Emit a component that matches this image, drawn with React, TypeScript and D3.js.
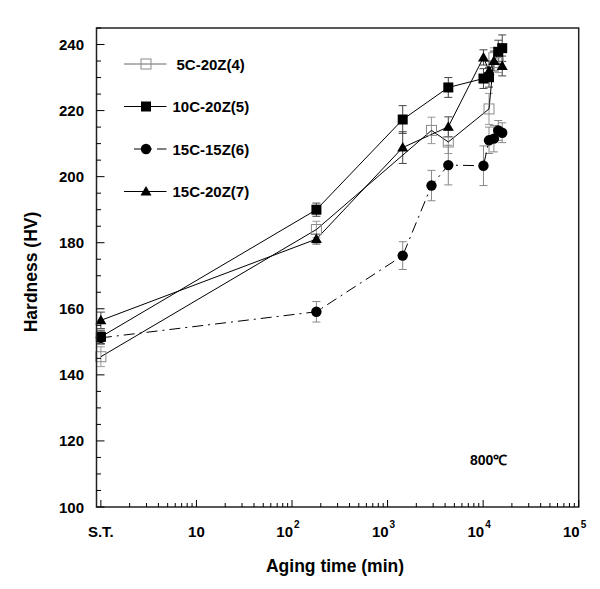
import React from "react";
import * as d3 from "d3";

const W = 600;
const H = 589;

// ---------- data ----------
const seriesNames = ["5C-20Z(4)", "10C-20Z(5)", "15C-15Z(6)", "15C-20Z(7)"];

// aging time in minutes; S.T. (solution treated) plotted at 1
const times5C20Z = [1, 180, 2880, 4320, 11520, 12960, 14400];
const hv5C20Z = [145.5, 184, 214, 210.5, 220.5, 236, 234.5];
const err5C20Z = [3, 2.5, 4, 3.5, 4.7, 3, 3];

const times10C20Z = [1, 180, 1440, 4320, 10080, 11520, 14400, 15840];
const hv10C20Z = [151.5, 190, 217.3, 227, 229.7, 230.1, 237.8, 238.9];
const err10C20Z = [2, 2, 4.2, 3, 3, 3, 3.5, 4];

const times15C15Z = [1, 180, 1440, 2880, 4320, 10080, 11520, 12960, 14400, 15840];
const hv15C15Z = [151.2, 159.1, 176.1, 197.3, 203.5, 203.3, 211, 211.5, 214, 213.3];
const err15C15Z = [2, 3.1, 4.2, 4.6, 6, 6, 4, 4, 3, 3];

const times15C20Z = [1, 180, 1440, 4320, 10080, 11520, 12960, 15840];
const hv15C20Z = [156.5, 181.1, 208.8, 215.1, 236.1, 232, 235, 233.5];
const err15C20Z = [2.5, 1.5, 4.8, 3, 2.3, 3, 3, 3];

const yTickValues = [100, 120, 140, 160, 180, 200, 220, 240];
const xTickValues = [1, 10, 100, 1000, 10000, 100000];
const xTickBase = ["S.T.", "10", "10", "10", "10", "10"];
const xTickExp = ["", "", "2", "3", "4", "5"];

const xTitle = "Aging time (min)";
const yTitle = "Hardness (HV)";
const tempLabel = "800\u2103";

// ---------- layout ----------
const plotLeft = 96.5;
const plotRight = 578.7;
const plotTop = 28;
const plotBottom = 507;
const FONT = "'Liberation Sans', Arial, Helvetica, sans-serif";

const x = d3.scaleLog().domain([0.9, 100000]).range([plotLeft, plotRight]);
const y = d3.scaleLinear().domain([100, 245]).range([plotBottom, plotTop]);

type Pt = { t: number; v: number; e: number };
const zip = (t: number[], v: number[], e: number[]): Pt[] =>
  t.map((tt, i) => ({ t: tt, v: v[i], e: e[i] }));

const series = [
  { name: seriesNames[0], pts: zip(times5C20Z, hv5C20Z, err5C20Z), marker: "openSquare", dash: "", errColor: "#9a9a9a" },
  { name: seriesNames[1], pts: zip(times10C20Z, hv10C20Z, err10C20Z), marker: "square", dash: "", errColor: "#444" },
  { name: seriesNames[2], pts: zip(times15C15Z, hv15C15Z, err15C15Z), marker: "circle", dash: "11,5,2,5", errColor: "#888" },
  { name: seriesNames[3], pts: zip(times15C20Z, hv15C20Z, err15C20Z), marker: "triangle", dash: "", errColor: "#444" },
];

const lineGen = d3
  .line<Pt>()
  .x((d) => x(d.t))
  .y((d) => y(d.v));

function Marker({ kind, cx, cy }: { kind: string; cx: number; cy: number }) {
  if (kind === "square")
    return <rect x={cx - 5} y={cy - 5} width={10} height={10} fill="#000" />;
  if (kind === "openSquare")
    return <rect x={cx - 5} y={cy - 5} width={10} height={10} fill="none" stroke="#8a8a8a" strokeWidth={1} />;
  if (kind === "circle") return <circle cx={cx} cy={cy} r={5.2} fill="#000" />;
  const p = `M${cx},${cy - 5.5}L${cx + 5.5},${cy + 4}L${cx - 5.5},${cy + 4}Z`;
  return <path d={p} fill="#000" />;
}

export default function App() {
  const allTicks = x.ticks().filter((t) => t >= 1 && t <= 100000);
  const isMajor = (t: number) => Math.abs(Math.log10(t) - Math.round(Math.log10(t))) < 1e-9;
  const yMinor = d3.range(100, 246, 5);

  const legendY = (i: number) => 64 + i * 42.5;

  return (
    <svg
      width={W}
      height={H}
      style={{ position: "absolute", left: 0, top: 0, display: "block", background: "#fff" }}
      fontFamily={FONT}
    >
      <rect x={0} y={0} width={W} height={H} fill="#fff" />

      {/* error bars */}
      {series.map((s, si) =>
        s.pts.map((d, i) => {
          const cx = x(d.t);
          const y1 = y(d.v - d.e);
          const y2 = y(d.v + d.e);
          return (
            <g key={`e${si}-${i}`} stroke={s.errColor} strokeWidth={1}>
              <line x1={cx} x2={cx} y1={y1} y2={y2} />
              <line x1={cx - 4} x2={cx + 4} y1={y1} y2={y1} />
              <line x1={cx - 4} x2={cx + 4} y1={y2} y2={y2} />
            </g>
          );
        })
      )}

      {/* lines */}
      {series.map((s, si) => (
        <path
          key={`l${si}`}
          d={lineGen(s.pts) || ""}
          fill="none"
          stroke="#000"
          strokeWidth={1}
          strokeDasharray={s.dash || undefined}
        />
      ))}

      {/* markers */}
      {series.map((s, si) =>
        s.pts.map((d, i) => <Marker key={`m${si}-${i}`} kind={s.marker} cx={x(d.t)} cy={y(d.v)} />)
      )}

      {/* frame */}
      <rect
        x={plotLeft}
        y={plotTop}
        width={plotRight - plotLeft}
        height={plotBottom - plotTop}
        fill="none"
        stroke="#222"
        strokeWidth={1.5}
      />

      {/* y ticks */}
      {yMinor.map((v) => {
        const major = v % 20 === 0;
        return (
          <line
            key={`yt${v}`}
            x1={plotLeft}
            x2={plotLeft + (major ? 8 : 4.5)}
            y1={y(v)}
            y2={y(v)}
            stroke="#000"
            strokeWidth={1}
          />
        );
      })}
      {yTickValues.map((v) => (
        <text
          key={`yl${v}`}
          x={84}
          y={y(v)}
          textAnchor="end"
          dominantBaseline="central"
          fontSize={15}
          fontWeight="bold"
        >
          {v}
        </text>
      ))}

      {/* x ticks */}
      {allTicks.map((t) => (
        <line
          key={`xt${t}`}
          x1={x(t)}
          x2={x(t)}
          y1={plotBottom}
          y2={plotBottom - (isMajor(t) ? 7 : 4)}
          stroke="#000"
          strokeWidth={1}
        />
      ))}
      {xTickValues.map((t, i) => {
        const cx = x(t);
        if (!xTickExp[i])
          return (
            <text
              key={`xl${i}`}
              x={cx}
              y={531}
              textAnchor="middle"
              dominantBaseline="central"
              fontSize={15}
              fontWeight="bold"
            >
              {xTickBase[i]}
            </text>
          );
        return (
          <g key={`xl${i}`} fontWeight="bold">
            <text x={cx + 1} y={531} textAnchor="end" dominantBaseline="central" fontSize={15}>
              {xTickBase[i]}
            </text>
            <text x={cx + 2} y={524} textAnchor="start" dominantBaseline="central" fontSize={10}>
              {xTickExp[i]}
            </text>
          </g>
        );
      })}

      {/* titles */}
      <text
        x={335}
        y={566}
        textAnchor="middle"
        dominantBaseline="central"
        fontSize={17.5}
        fontWeight="bold"
      >
        {xTitle}
      </text>
      <text
        transform={`translate(31,272) rotate(-90)`}
        textAnchor="middle"
        dominantBaseline="central"
        fontSize={17.5}
        fontWeight="bold"
      >
        {yTitle}
      </text>

      <text x={470} y={460} dominantBaseline="central" fontSize={14} fontWeight="bold">
        {tempLabel}
      </text>

      {/* legend */}
      {series.map((s, i) => {
        const ly = legendY(i);
        const x0 = s.dash ? 134 : 124;
        return (
          <g key={`lg${i}`}>
            <line
              x1={x0}
              x2={166.5}
              y1={ly}
              y2={ly}
              stroke={i === 0 ? "#666" : "#000"}
              strokeWidth={1}
              strokeDasharray={s.dash || undefined}
            />
            <Marker kind={s.marker} cx={146} cy={ly} />
            <text
              x={i === 0 ? 176.5 : 172.5}
              y={ly}
              dominantBaseline="central"
              fontSize={15}
              fontWeight="bold"
            >
              {s.name}
            </text>
          </g>
        );
      })}
    </svg>
  );
}
